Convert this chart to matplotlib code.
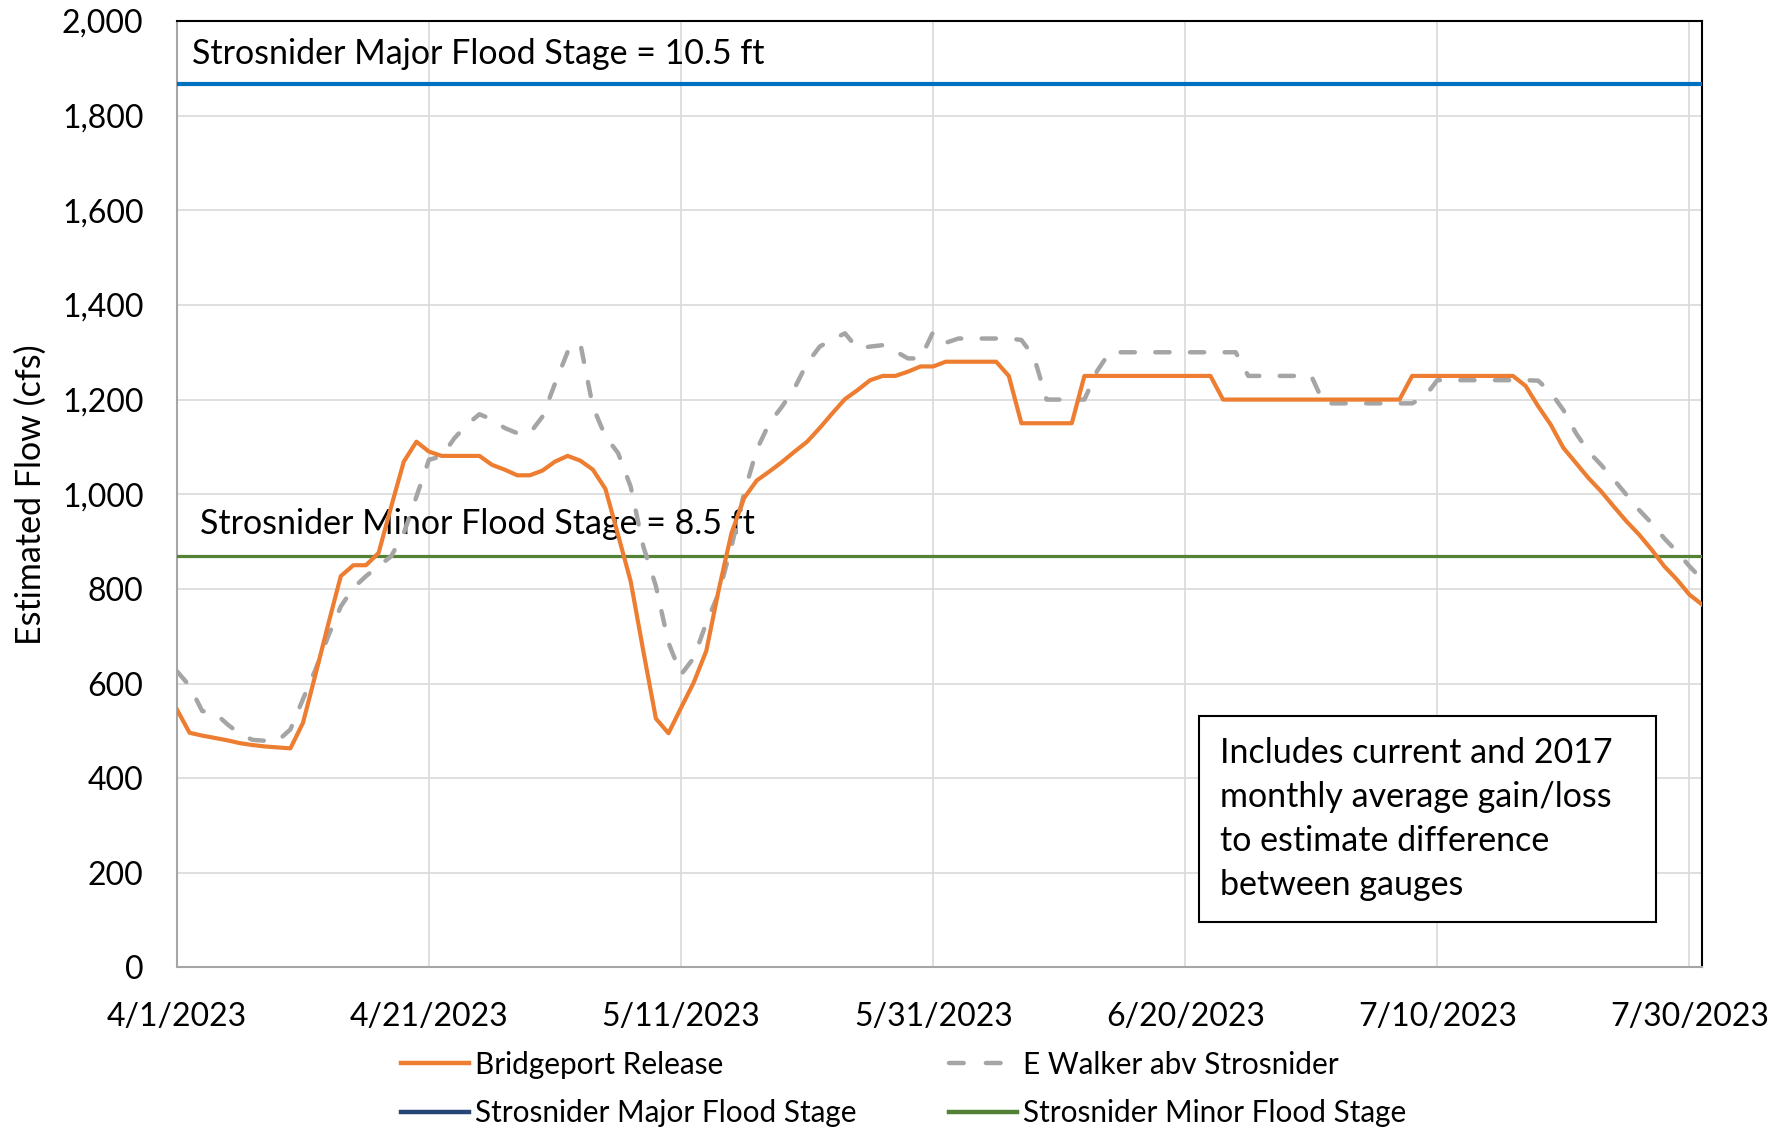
import numpy as np
import pandas as pd
import matplotlib
matplotlib.use('Agg')
import matplotlib.pyplot as plt
from matplotlib.lines import Line2D
from matplotlib.patches import Rectangle

plt.rcParams['font.family'] = ['Lato', 'DejaVu Sans']

# daily values, 4/1/2023 - 7/31/2023
fechas = pd.date_range('2023-04-01', '2023-07-31', freq='D')

bridgeport = [545, 496, 490, 485, 480, 474, 470, 467, 465, 463,
              517, 620, 725, 827, 850, 850, 876, 974, 1069, 1111,
              1090, 1081, 1081, 1081, 1081, 1062, 1052, 1040, 1040, 1050,
              1069, 1081, 1071, 1052, 1011, 914, 816, 669, 526, 495,
              549, 602, 669, 800, 918, 992, 1029, 1048, 1068, 1090,
              1111, 1140, 1171, 1201, 1220, 1241, 1250, 1250, 1259, 1270,
              1270, 1280, 1280, 1280, 1280, 1280, 1250, 1150, 1150, 1150,
              1150, 1150, 1250, 1250, 1250, 1250, 1250, 1250, 1250, 1250,
              1250, 1250, 1250, 1200, 1200, 1200, 1200, 1200, 1200, 1200,
              1200, 1200, 1200, 1200, 1200, 1200, 1200, 1200, 1250, 1250,
              1250, 1250, 1250, 1250, 1250, 1250, 1250, 1229, 1186, 1147,
              1098, 1066, 1034, 1006, 974, 943, 915, 883, 848, 820,
              788, 767]

ewalker = [626, 595, 542, 538, 514, 493, 481, 479, 479, 503,
           567, 630, 700, 763, 802, 827, 848, 869, 918, 995,
           1073, 1080, 1118, 1147, 1169, 1158, 1140, 1129, 1129, 1164,
           1234, 1301, 1319, 1185, 1122, 1087, 1016, 890, 806, 686,
           619, 654, 728, 792, 890, 1002, 1094, 1150, 1185, 1224,
           1277, 1312, 1327, 1340, 1308, 1312, 1315, 1302, 1287, 1287,
           1343, 1320, 1329, 1329, 1329, 1329, 1329, 1326, 1290, 1200,
           1200, 1200, 1200, 1260, 1300, 1300, 1300, 1300, 1300, 1300,
           1300, 1300, 1300, 1300, 1300, 1250, 1250, 1250, 1250, 1250,
           1250, 1192, 1192, 1192, 1192, 1192, 1192, 1192, 1192, 1206,
           1241, 1241, 1241, 1241, 1241, 1241, 1241, 1241, 1240, 1215,
           1178, 1129, 1090, 1062, 1031, 999, 967, 939, 907, 879,
           848, 820]

major_stage = 1866
minor_stage = 869

tick_fechas = pd.date_range('2023-04-01', periods=7, freq='20D')
tick_labels = ['4/1/2023', '4/21/2023', '5/11/2023', '5/31/2023',
               '6/20/2023', '7/10/2023', '7/30/2023']

naranja = '#ED7D31'
gris = '#A5A5A5'
azul = '#0070C0'
azul_leyenda = '#264478'
verde = '#548235'

fig = plt.figure(figsize=(17.91, 11.28), dpi=100)
ax = fig.add_axes([0.0988, 0.1423, 0.8515, 0.8391])

ax.axhline(major_stage, color=azul, lw=3.0, zorder=3)
ax.axhline(minor_stage, color=verde, lw=2.3, zorder=3)
ax.plot(fechas, ewalker, color=gris, lw=3.2, dashes=(3.2, 4.6),
        dash_capstyle='round', zorder=4)
ax.plot(fechas, bridgeport, color=naranja, lw=3.0, zorder=5)

ax.set_xlim(fechas[0], fechas[-1])
ax.set_ylim(0, 2000)
ax.set_yticks(np.arange(0, 2001, 200))
ax.set_yticklabels(['{:,}'.format(v) for v in range(0, 2001, 200)])
ax.set_xticks(tick_fechas)
ax.set_xticklabels(tick_labels)
ax.tick_params(axis='both', length=0, labelsize=23)
ax.tick_params(axis='x', pad=25)
ax.tick_params(axis='y', pad=24)
ax.grid(True, color='#D9D9D9', lw=1.2)
ax.set_axisbelow(True)

for s in ['top', 'right']:
    ax.spines[s].set_color('black')
    ax.spines[s].set_linewidth(1.5)
for s in ['left', 'bottom']:
    ax.spines[s].set_color('#A6A6A6')
    ax.spines[s].set_linewidth(1.5)

ax.set_ylabel('Estimated Flow (cfs)', fontsize=24.5)
ax.yaxis.set_label_coords(-0.085, 0.5)

ax.text(0.010, 1910, 'Strosnider Major Flood Stage = 10.5 ft', transform=ax.get_yaxis_transform(),
        fontsize=24.5, va='baseline', ha='left')
ax.text(0.0152, 917, 'Strosnider Minor Flood Stage = 8.5 ft', transform=ax.get_yaxis_transform(),
        fontsize=24.5, va='baseline', ha='left')

# caja de nota
ax.add_patch(Rectangle((0.670, 0.048), 0.300, 0.2174, transform=ax.transAxes,
                       fc='white', ec='black', lw=1.5, zorder=6))
ax.text(0.684, 0.1568, 'Includes current and 2017\nmonthly average gain/loss\nto estimate difference\nbetween gauges',
        transform=ax.transAxes, fontsize=24.5, va='center', ha='left', linespacing=1.47, zorder=7)

handles = [Line2D([], [], color=naranja, lw=3.2),
           Line2D([], [], color=azul_leyenda, lw=3.2),
           Line2D([], [], color=gris, lw=3.2, dashes=(3.3, 5.0), dash_capstyle='round'),
           Line2D([], [], color=verde, lw=3.2)]
labels = ['Bridgeport Release', 'Strosnider Major Flood Stage',
          'E Walker abv Strosnider', 'Strosnider Minor Flood Stage']
fig.legend(handles, labels, ncol=2, loc='center', bbox_to_anchor=(0.5045, 0.0345),
           frameon=False, fontsize=21.4, handlelength=2.3, handletextpad=0.2,
           columnspacing=3.1, labelspacing=0.70, borderpad=0)

plt.savefig('out.png', dpi=100)
plt.close()
